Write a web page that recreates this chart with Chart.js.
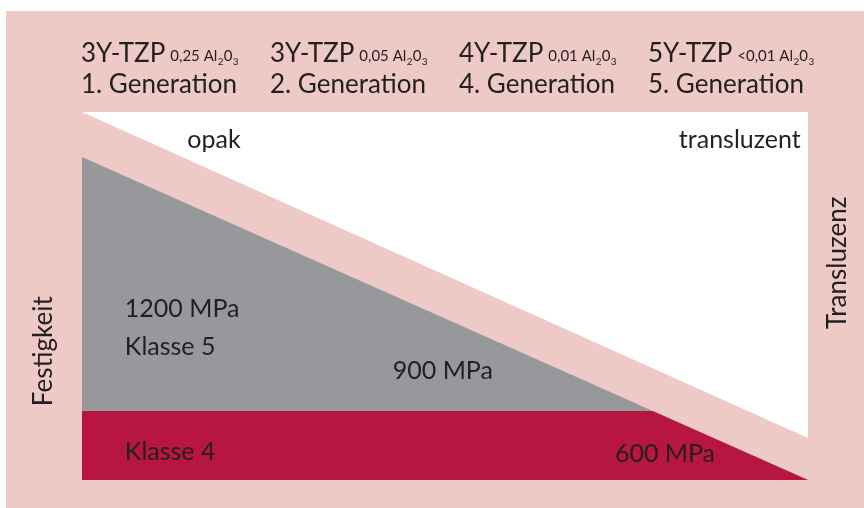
<!DOCTYPE html>
<html>
<head>
<meta charset="utf-8">
<script src="https://cdn.jsdelivr.net/npm/chart.js@4"></script>
<style>
  html, body { margin: 0; padding: 0; background: #ffffff; }
  #wrap { width: 864px; height: 508px; }
</style>
</head>
<body>
<div id="wrap"><canvas id="chart" width="864" height="508"></canvas></div>
<script>
// Header columns
var materials = ['3Y-TZP', '3Y-TZP', '4Y-TZP', '5Y-TZP'];
var alumina = ['0,25', '0,05', '0,01', '<0,01'];
var generations = ['1. Generation', '2. Generation', '4. Generation', '5. Generation'];

// Areas (x: 0 = left, 1 = right, y: 0..100)
var transluzenzX = [0, 1];
var transluzenzY = [100, 11.4];
var festigkeitX = [0, 1];
var festigkeitY = [87.8, 0];
var klasse4X = [0, 0.786, 1];
var klasse4Y = [18.75, 18.75, 0];

// Labels inside the chart
var labelTexts = ['opak', 'transluzent', '1200 MPa', 'Klasse 5', '900 MPa', 'Klasse 4', '600 MPa'];
var labelX = [0.145, 0.99, 0.059, 0.059, 0.428, 0.059, 0.734];
var labelY = [90.2, 90.2, 44.3, 34.0, 27.4, 5.4, 4.9];
var labelAlign = ['left', 'right', 'left', 'left', 'left', 'left', 'left'];

var PINK = '#edcac6';
var GREY = '#97989b';
var RED = '#b71641';
var TEXT = '#231f20';
var FONT = 'Lato, "Noto Sans", sans-serif';

function toPoints(xs, ys) {
    return xs.map(function(x, i) { return { x: x, y: ys[i] }; });
}

var decorPlugin = {
    id: 'decor',
    beforeDraw: function(chart) {
        var ctx = chart.ctx;
        ctx.save();
        ctx.fillStyle = PINK;
        ctx.fillRect(6, 11, chart.width - 6, chart.height - 11);
        ctx.restore();
    },
    afterDraw: function(chart) {
        var ctx = chart.ctx;
        var area = chart.chartArea;
        var xs = chart.scales.x;
        var ys = chart.scales.y;
        ctx.save();
        ctx.fillStyle = TEXT;
        ctx.textBaseline = 'alphabetic';

        // header
        materials.forEach(function(m, i) {
            var x = area.left - 1 + i * 189;
            ctx.textAlign = 'left';
            ctx.font = '26px ' + FONT;
            ctx.fillText(m, x, 62);
            x += ctx.measureText(m).width + 5;
            var parts = [[alumina[i] + ' Al', 0], ['2', 1], ['0', 0], ['3', 1]];
            parts.forEach(function(p) {
                ctx.font = (p[1] ? '10px ' : '15px ') + FONT;
                ctx.fillText(p[0], x, p[1] ? 65 : 61);
                x += ctx.measureText(p[0]).width + (p[1] ? 0 : 0.5);
            });
            ctx.font = '26px ' + FONT;
            ctx.fillText(generations[i], area.left - 1 + i * 189, 93);
        });

        // labels inside
        ctx.font = '25px ' + FONT;
        labelTexts.forEach(function(t, i) {
            ctx.textAlign = labelAlign[i];
            ctx.fillText(t, xs.getPixelForValue(labelX[i]), ys.getPixelForValue(labelY[i]));
        });

        // axis titles
        ctx.font = '26px ' + FONT;
        ctx.textAlign = 'center';
        ctx.textBaseline = 'middle';
        ctx.save();
        ctx.translate(44, ys.getPixelForValue(35));
        ctx.rotate(-Math.PI / 2);
        ctx.fillText('Festigkeit', 0, 0);
        ctx.restore();
        ctx.save();
        ctx.translate(838, ys.getPixelForValue(59));
        ctx.rotate(-Math.PI / 2);
        ctx.fillText('Transluzenz', 0, 0);
        ctx.restore();
        ctx.restore();
    }
};

new Chart(document.getElementById('chart'), {
    type: 'line',
    data: {
        datasets: [
            {
                label: 'Klasse 4',
                data: toPoints(klasse4X, klasse4Y),
                backgroundColor: RED,
                fill: 'origin'
            },
            {
                label: 'Klasse 5',
                data: toPoints(festigkeitX, festigkeitY),
                backgroundColor: GREY,
                fill: 'origin'
            },
            {
                label: 'Transluzenz',
                data: toPoints(transluzenzX, transluzenzY),
                backgroundColor: '#ffffff',
                fill: 'end'
            }
        ]
    },
    options: {
        responsive: false,
        animation: false,
        layout: { padding: { left: 82, right: 56, top: 112, bottom: 28 } },
        elements: {
            line: { tension: 0, borderWidth: 0 },
            point: { radius: 0 }
        },
        scales: {
            x: { type: 'linear', min: 0, max: 1, display: false },
            y: { type: 'linear', min: 0, max: 100, display: false }
        },
        plugins: {
            legend: { display: false },
            tooltip: { enabled: false }
        }
    },
    plugins: [decorPlugin]
});
</script>
</body>
</html>
